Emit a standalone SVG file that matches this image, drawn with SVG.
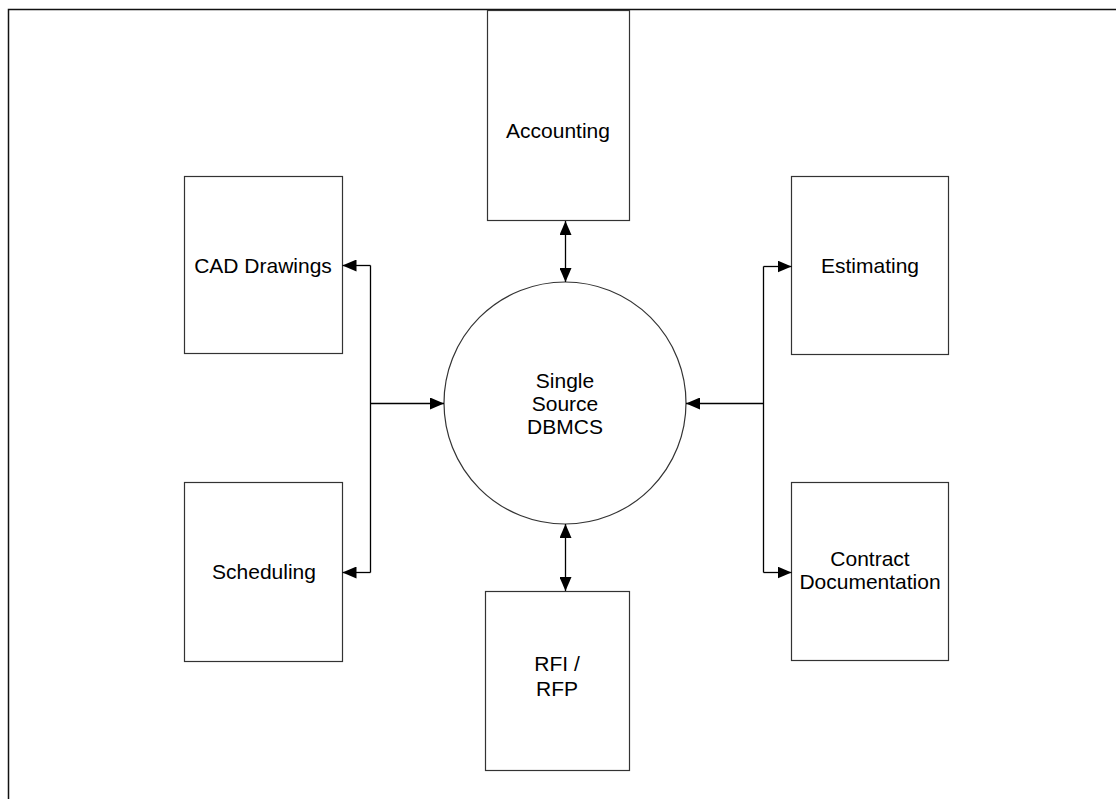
<svg xmlns="http://www.w3.org/2000/svg" width="1116" height="799" viewBox="0 0 1116 799">
  <style>
    .box { fill: #fff; stroke: #333; stroke-width: 1.2; }
    .lbl { font-family: "Liberation Sans", Arial, sans-serif; font-size: 21px; fill: #000; text-anchor: middle; }
    .wire { fill: none; stroke: #000; stroke-width: 1.3; }
  </style>
  <defs>
    <marker id="head" viewBox="0 0 14 12" refX="14" refY="6" markerWidth="14" markerHeight="12" markerUnits="userSpaceOnUse" orient="auto-start-reverse">
      <path d="M0,0 L14,6 L0,12 Z" fill="#000"/>
    </marker>
  </defs>
  <rect width="1116" height="799" fill="#fff"/>
  <!-- page frame -->
  <rect x="8.5" y="9.5" width="1140" height="820" fill="none" stroke="#111" stroke-width="1.5"/>

  <g id="accounting">
    <rect class="box" x="487.5" y="10.5" width="142" height="210"/>
    <text class="lbl" x="558" y="137.5">Accounting</text>
  </g>
  <g id="cad-drawings">
    <rect class="box" x="184.5" y="176.5" width="158" height="177"/>
    <text class="lbl" x="263" y="272.5">CAD Drawings</text>
  </g>
  <g id="scheduling">
    <rect class="box" x="184.5" y="482.5" width="158" height="179"/>
    <text class="lbl" x="264" y="578.5">Scheduling</text>
  </g>
  <g id="estimating">
    <rect class="box" x="791.5" y="176.5" width="157" height="178"/>
    <text class="lbl" x="870" y="272.5">Estimating</text>
  </g>
  <g id="contract-documentation">
    <rect class="box" x="791.5" y="482.5" width="157" height="178"/>
    <text class="lbl" x="870" y="565.5">Contract</text>
    <text class="lbl" x="870" y="588.5">Documentation</text>
  </g>
  <g id="rfi-rfp">
    <rect class="box" x="485.5" y="591.5" width="144" height="179"/>
    <text class="lbl" x="557" y="670.5">RFI /</text>
    <text class="lbl" x="557" y="695.5">RFP</text>
  </g>
  <g id="dbmcs">
    <circle class="box" cx="565" cy="403" r="121"/>
    <text class="lbl" x="565" y="387.5">Single</text>
    <text class="lbl" x="565" y="410.5">Source</text>
    <text class="lbl" x="565" y="433.5">DBMCS</text>
  </g>

  <g id="connectors">
    <!-- left bus -->
    <path class="wire" d="M370.5,265.5 V572.5"/>
    <path class="wire" d="M370.5,265.5 H342.5" marker-end="url(#head)"/>
    <path class="wire" d="M370.5,572.5 H342.5" marker-end="url(#head)"/>
    <path class="wire" d="M370.5,403.5 H444" marker-end="url(#head)"/>
    <!-- right bus -->
    <path class="wire" d="M763.5,266.5 V572.5"/>
    <path class="wire" d="M763.5,266.5 H791.5" marker-end="url(#head)"/>
    <path class="wire" d="M763.5,572.5 H791.5" marker-end="url(#head)"/>
    <path class="wire" d="M763.5,403.5 H686" marker-end="url(#head)"/>
    <!-- vertical links -->
    <path class="wire" d="M565.5,221 V282" marker-start="url(#head)" marker-end="url(#head)"/>
    <path class="wire" d="M565.5,524 V591" marker-start="url(#head)" marker-end="url(#head)"/>
  </g>
</svg>
